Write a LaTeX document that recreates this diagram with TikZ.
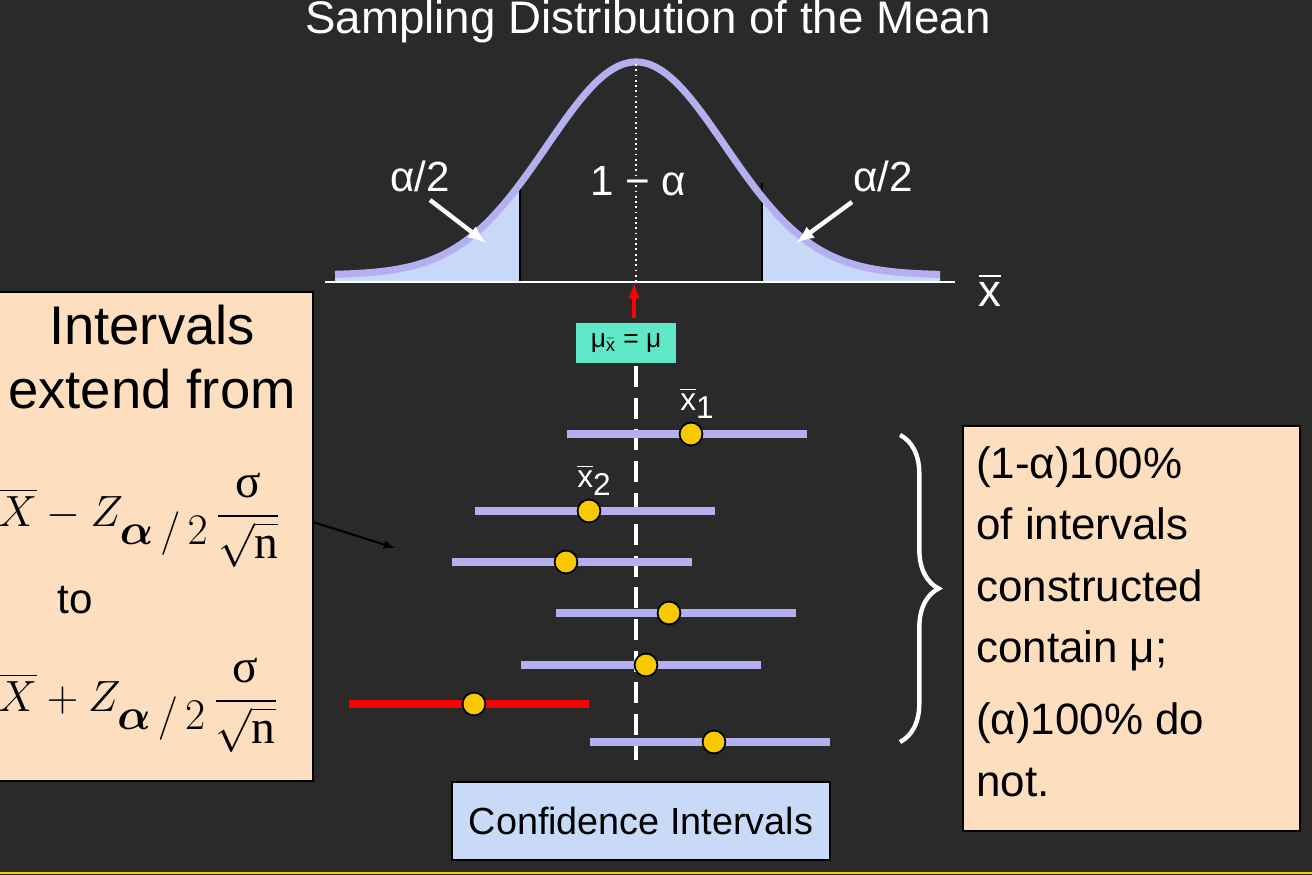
\documentclass[tikz,border=0pt]{standalone}
\usepackage{fontspec}
\usepackage{amsmath,bm}
\setmainfont{Liberation Sans}
\newfontfamily\serif{Liberation Serif}
\usetikzlibrary{positioning,decorations.pathreplacing}
\definecolor{bgdark}{HTML}{2A2A2A}
\definecolor{curvelav}{HTML}{B4B0F0}
\definecolor{tailblue}{HTML}{C8D8F8}
\definecolor{peach}{HTML}{FDDFBF}
\definecolor{teal}{HTML}{5FE8C8}
\definecolor{boxblue}{HTML}{C8DAF8}
\definecolor{dotyellow}{HTML}{F8C800}
\newcommand{\sfrac}{\dfrac{\text{\serif σ}}{\sqrt{\text{\serif n}}}}
\tikzset{
  ci/.style={curvelav, line width=4pt},
  cibad/.style={red, line width=4pt},
  mdot/.style={circle, fill=dotyellow, draw=black, line width=1pt, inner sep=0pt, minimum size=13pt},
  wlabel/.style={text=white, font=\fontsize{24}{28}\selectfont},
  xlabel/.style={text=white, font=\fontsize{18}{20}\selectfont},
  peachbox/.style={fill=peach, draw=black, line width=0.8pt}
}
\begin{document}
\begin{tikzpicture}[x=0.02cm, y=-0.02cm]

\useasboundingbox (0,0) rectangle (1312,875);
\fill[bgdark] (0,0) rectangle (1312,875);
\draw[dotyellow, line width=1.5pt] (0,873) -- (1312,873);

\node[text=white, font=\fontsize{26}{30}\selectfont] (title) at (648,22) {Sampling Distribution of the Mean};

% tails and curve
\fill[tailblue] plot[domain=335:520, samples=40] (\x,{275-213*exp(-((\x-636)/89)^2/2)}) -- (520,281) -- (335,281) -- cycle;
\fill[tailblue] plot[domain=762:940, samples=40] (\x,{275-213*exp(-((\x-636)/89)^2/2)}) -- (940,281) -- (762,281) -- cycle;
\draw[black, line width=1pt] (520,183) -- (520,281);
\draw[black, line width=1pt] (762,183) -- (762,281);
\draw[curvelav, line width=4pt] plot[domain=335:940, samples=120, smooth] (\x,{275-213*exp(-((\x-636)/89)^2/2)});
\draw[white, dotted, line width=1pt] (636,64) -- (636,281);
\draw[white, line width=1.5pt] (325,282) -- (955,282);
\node[text=white, font=\fontsize{26}{30}\selectfont] (xbar) at (990,290) {$\overline{\text{x}}$};

\node[wlabel] (alab) at (420,176) {α/2};
\node[wlabel] (mid) at (638,181) {1 − α};
\node[wlabel] (blab) at (883,176) {α/2};
\draw[white, line width=2.5pt, -latex] (430,200) -- (486,243);
\draw[white, line width=2.5pt, -latex] (852,202) -- (796,243);

% mean
\node[fill=teal, minimum width=100*0.02cm, minimum height=40*0.02cm, font=\fontsize{15}{18}\selectfont] (mu) at (626,343) {μ$_{\bar{\text{x}}}$ = μ};
\draw[red, line width=2pt, -latex] (634,318) -- (634,283);
\draw[white, dashed, dash pattern=on 12pt off 6pt, line width=2pt] (636,366) -- (636,760);

% intervals
\foreach \yy/\xa/\xb/\xd in {434/567/807/691, 511/475/715/589, 562/452/692/566, 613/556/796/669, 665/521/761/646, 742/590/830/714}
  \draw[ci] (\xa,\yy) -- (\xb,\yy) node[mdot] at (\xd,\yy) {};
\draw[cibad] (349,704) -- (589,704) node[mdot] at (474,704) {};
\node[xlabel] (x1) at (697,403) {$\overline{\text{x}}$\raisebox{-0.5ex}{1}};
\node[xlabel] (x2) at (594,480) {$\overline{\text{x}}$\raisebox{-0.5ex}{2}};

% left box
\draw[peachbox] (-10,292) rectangle (313,781);
\node[font=\fontsize{31}{36}\selectfont, align=center] (ext) at (152,357) {Intervals\\extend from};
\node[anchor=west, font=\fontsize{27}{30}\selectfont] (lo) at (-8,520) {$\overline{X}-Z_{\textstyle\bm{\alpha}\,/\,2}\,\sfrac$};
\node[font=\fontsize{24}{28}\selectfont] (to) at (75,600) {to};
\node[anchor=west, font=\fontsize{27}{30}\selectfont] (hi) at (-8,705) {$\overline{X}+Z_{\textstyle\bm{\alpha}\,/\,2}\,\sfrac$};
\coordinate (arrtip) at (395,548);
\draw[black, line width=1.2pt, -latex] (313,522) -- (arrtip);

% brace and right box
\draw[white, line width=2.5pt, decorate, decoration={brace, amplitude=22pt}] (900,435) -- (900,742);
\draw[peachbox] (963,426) rectangle (1300,831);
\node[anchor=north west, align=left, font=\fontsize{25}{35}\selectfont] (txt) at (970,440) {(1-α)100\%\\of intervals\\constructed\\contain μ;\\[6pt](α)100\% do\\not.};

% bottom label
\node[fill=boxblue, draw=black, line width=0.8pt, minimum width=378*0.02cm, minimum height=78*0.02cm, font=\fontsize{21.5}{24}\selectfont] (cil) at (641,821) {Confidence Intervals};

\end{tikzpicture}
\end{document}
